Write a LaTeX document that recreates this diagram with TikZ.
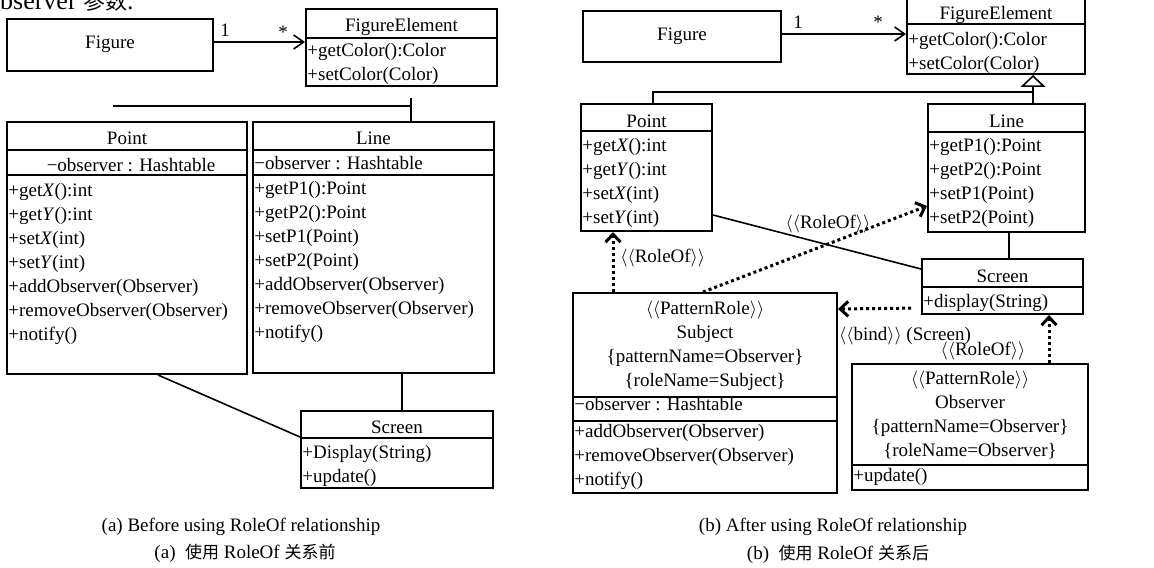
\documentclass[tikz,border=0pt]{standalone}
\usepackage{fontspec}
\setmainfont{Liberation Serif}
\newfontfamily\cjk{Noto Sans CJK SC}
\usetikzlibrary{arrows.meta}
\newcommand{\umlfont}{\fontsize{9.5}{12}\selectfont}
\newcommand{\stereo}[1]{$\langle\langle$#1$\rangle\rangle$}
\newcommand{\zh}[1]{{\cjk\fontsize{8.5}{10}\selectfont #1}}

\begin{document}
\begin{tikzpicture}[x=0.5pt, y=-0.5pt, font=\umlfont,
        box/.style = {draw, line width=1pt, inner sep=0pt},
        sep/.style = {line width=1pt},
        ttl/.style = {anchor=base, inner sep=0pt},
        mem/.style = {anchor=north west, inner sep=0pt, align=left},
        one/.style = {anchor=base west, inner sep=0pt},
        hdr/.style = {anchor=north, inner sep=0pt, align=center},
        lbl/.style = {inner sep=0pt},
        link/.style = {line width=0.8pt},
        assoc/.style = {line width=0.8pt, -{Straight Barb[length=5pt, width=7pt]}},
        gen/.style = {line width=0.8pt, -{Triangle[open, length=6pt, width=12.5pt]}},
        roleof/.style = {line width=1.5pt, dash pattern=on 1.5pt off 1.5pt, -{Straight Barb[length=4pt, width=7.5pt]}}]
        \useasboundingbox (0,0) rectangle (1154,567);
        \node[anchor=base west, inner sep=0pt, font=\fontsize{13}{15}\selectfont] (top) at (-19,10) {Observer {\cjk\fontsize{11}{13}\selectfont 参数}.};

        % (a) before
        \node[box, minimum width=103pt, minimum height=26pt] (figA) at (110,45) {};
        \node[ttl] (figAt) at (110,49) {Figure};
        \node[box, minimum width=95.5pt, minimum height=38.5pt] (feA) at (401.5,47.5) {};
        \draw[sep] (feA.west |- 0,38) -- (feA.east |- 0,38);
        \node[ttl] (feAt) at (401.5,32) {FigureElement};
        \node[mem] (feAm) at (307,43) {+getColor():Color\\+setColor(Color)};

        \node[box, minimum width=120pt, minimum height=126pt] (ptA) at (127,248) {};
        \draw[sep] (ptA.west |- 0,150) -- (ptA.east |- 0,150);
        \draw[sep] (ptA.west |- 0,175) -- (ptA.east |- 0,175);
        \node[ttl] (ptAt) at (127,144) {Point};
        \node[ttl] (ptAa) at (131,171) {−observer : Hashtable};
        \node[mem] (ptAm) at (8,183) {+get\textit{X}():int\\+get\textit{Y}():int\\+set\textit{X}(int)\\+set\textit{Y}(int)\\+addObserver(Observer)\\+removeObserver(Observer)\\+notify()};

        \node[box, minimum width=120.5pt, minimum height=125.5pt] (lnA) at (373.5,247.5) {};
        \draw[sep] (lnA.west |- 0,150) -- (lnA.east |- 0,150);
        \draw[sep] (lnA.west |- 0,175) -- (lnA.east |- 0,175);
        \node[ttl] (lnAt) at (373.5,144) {Line};
        \node[one] (lnAa) at (254,169) {−observer : Hashtable};
        \node[mem] (lnAm) at (254,181) {+getP1():Point\\+getP2():Point\\+setP1(Point)\\+setP2(Point)\\+addObserver(Observer)\\+removeObserver(Observer)\\+notify()};

        \node[box, minimum width=96pt, minimum height=38.5pt] (scA) at (397,449.5) {};
        \draw[sep] (scA.west |- 0,438) -- (scA.east |- 0,438);
        \node[ttl] (scAt) at (397,433) {Screen};
        \node[mem] (scAm) at (302,445) {+Display(String)\\+update()};

        \draw[assoc] (figA.east |- 0,42) -- (feA.west |- 0,42);
        \node[lbl, anchor=base] (mA1) at (225,37) {1};
        \node[lbl, anchor=base] (mA2) at (283,39) {*};
        \coordinate (gA1) at (113,106);
        \coordinate (gA2) at (411,98);
        \draw[link] (gA1) -- (gA1 -| gA2);
        \draw[link] (gA2) -- (lnA.north -| gA2);
        \draw[link] (ptA.south -| 158,0) -- (scA.west |- 0,437);
        \draw[link] (lnA.south -| 402,0) -- (scA.north -| 402,0);

        \node[lbl] (capA1) at (241,527) {(a) Before using RoleOf relationship};
        \node[lbl] (capA2) at (245,553) {(a)\ \ \zh{使用} RoleOf \zh{关系前}};

        % (b) after
        \node[box, minimum width=99pt, minimum height=25.5pt] (figB) at (682,36.5) {};
        \node[ttl] (figBt) at (682,41) {Figure};
        \node[box, minimum width=89pt, minimum height=39pt] (feB) at (996,35) {};
        \draw[sep] (feB.west |- 0,24) -- (feB.east |- 0,24);
        \node[ttl] (feBt) at (996,20) {FigureElement};
        \node[mem] (feBm) at (908,32) {+getColor():Color\\+setColor(Color)};

        \node[box, minimum width=65.5pt, minimum height=63.5pt] (ptB) at (646.5,167.5) {};
        \draw[sep] (ptB.west |- 0,131) -- (ptB.east |- 0,131);
        \node[ttl] (ptBt) at (646.5,127) {Point};
        \node[mem] (ptBm) at (582,138) {+get\textit{X}():int\\+get\textit{Y}():int\\+set\textit{X}(int)\\+set\textit{Y}(int)};

        \node[box, minimum width=78.5pt, minimum height=64pt] (lnB) at (1006.5,168) {};
        \draw[sep] (lnB.west |- 0,132) -- (lnB.east |- 0,132);
        \node[ttl] (lnBt) at (1006.5,127) {Line};
        \node[mem] (lnBm) at (929,138) {+getP1():Point\\+getP2():Point\\+setP1(Point)\\+setP2(Point)};

        \node[box, minimum width=80.5pt, minimum height=27.5pt] (scB) at (1002.5,286.5) {};
        \draw[sep] (scB.west |- 0,287) -- (scB.east |- 0,287);
        \node[ttl] (scBt) at (1002.5,282) {Screen};
        \node[one] (scBm) at (923,307) {+display(String)};

        \node[box, minimum width=132pt, minimum height=100pt] (subj) at (705,393) {};
        \draw[sep] (subj.west |- 0,397) -- (subj.east |- 0,397);
        \draw[sep] (subj.west |- 0,421) -- (subj.east |- 0,421);
        \node[hdr] (subjh) at (705,301) {\stereo{PatternRole}\\Subject\\\{patternName=Observer\}\\\{roleName=Subject\}};
        \node[one] (subja) at (574,410) {−observer : Hashtable};
        \node[mem] (subjm) at (574,424) {+addObserver(Observer)\\+removeObserver(Observer)\\+notify()};

        \node[box, minimum width=118pt, minimum height=63pt] (obs) at (970,427) {};
        \draw[sep] (obs.west |- 0,465) -- (obs.east |- 0,465);
        \node[hdr] (obsh) at (970,371) {\stereo{PatternRole}\\Observer\\\{patternName=Observer\}\\\{roleName=Observer\}};
        \node[one] (obsm) at (853,481) {+update()};

        \draw[assoc] (figB.east |- 0,34) -- (feB.west |- 0,34);
        \node[lbl, anchor=base] (mB1) at (798,29) {1};
        \node[lbl, anchor=base] (mB2) at (878,29) {*};
        \coordinate (gB) at (1033,92);
        \draw[link] ([xshift=3.25pt]ptB.north) |- (gB);
        \draw[gen] (lnB.north -| gB) -- (feB.south -| gB);
        \draw[link] (ptB.east |- 0,215) -- (scB.west |- 0,269);
        \draw[link] (lnB.south -| 1009,0) -- (scB.north -| 1009,0);

        \draw[roleof] (subj.north -| 613,0) -- (ptB.south -| 613,0);
        \draw[roleof] (subj.north -| 703,0) -- (lnB.west |- 0,206);
        \draw[roleof, shorten <=5pt] (scB.west |- 0,308) -- (subj.east |- 0,309);
        \draw[roleof] (obs.north -| 1049,0) -- (scB.south -| 1049,0);
        \node[lbl, anchor=base west] (r1) at (620,262) {\stereo{RoleOf}};
        \node[lbl, anchor=base] (r2) at (828,228) {\stereo{RoleOf}};
        \node[lbl, anchor=base] (bd) at (905,340) {\stereo{bind} (Screen)};
        \node[lbl, anchor=base] (r4) at (983,355) {\stereo{RoleOf}};

        \node[lbl] (capB1) at (833,527) {(b) After using RoleOf relationship};
        \node[lbl] (capB2) at (838,554) {(b)\ \ \zh{使用} RoleOf \zh{关系后}};
    \end{tikzpicture}
\end{document}
